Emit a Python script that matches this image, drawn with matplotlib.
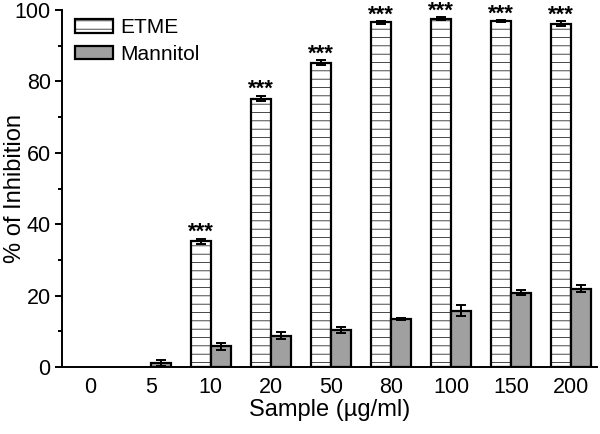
import numpy as np
import matplotlib.pyplot as plt
from matplotlib.patches import Patch

plt.rcParams['font.family'] = ['Liberation Sans', 'DejaVu Sans']
plt.rcParams['hatch.color'] = '#ababab'
plt.rcParams['hatch.linewidth'] = 0.5

samples = ['0', '5', '10', '20', '50', '80', '100', '150', '200']
etme = [0, 0, 35.2, 75.2, 85.2, 96.5, 97.6, 96.8, 96.2]
etme_err = [0, 0, 0.8, 0.8, 0.7, 0.4, 0.3, 0.3, 0.6]
mannitol = [0, 1.2, 5.8, 8.8, 10.5, 13.4, 15.8, 20.9, 22.0]
mannitol_err = [0, 0.8, 1.0, 1.0, 0.8, 0.3, 1.5, 0.8, 0.9]
stars = ['', '', '***', '***', '***', '***', '***', '***', '***']

fig = plt.figure(figsize=(6, 4.34), dpi=100)
ax = fig.add_axes([0.103, 0.154, 0.892, 0.823])

x = np.arange(len(samples))
w = 0.335
ekw = dict(elinewidth=1.4, capthick=1.4, capsize=3.5)
etme_a = np.array(etme)
man_a = np.array(mannitol)
m1 = etme_a > 0
m2 = man_a > 0
ax.bar(x[m1] - w/2, etme_a[m1], w, color='white', edgecolor='black', linewidth=1.6,
       hatch='--')
ax.errorbar(x[m1] - w/2, etme_a[m1], yerr=np.array(etme_err)[m1], fmt='none',
            ecolor='black', **ekw)
ax.bar(x[m2] + w/2, man_a[m2], w, color='#a0a0a0', edgecolor='black', linewidth=1.6)
ax.errorbar(x[m2] + w/2, man_a[m2], yerr=np.array(mannitol_err)[m2], fmt='none',
            ecolor='black', **ekw)

for xi, v, e, s in zip(x, etme, etme_err, stars):
    if s:
        ax.text(xi - w/2, v + e - 1.2, s, ha='center', va='bottom', fontsize=16,
                fontweight='bold', clip_on=False)

ax.set_xlim(-0.48, 8.43)
ax.set_ylim(0, 100)
ax.set_xticks(x)
ax.set_xticklabels(samples)
ax.set_yticks(np.arange(0, 101, 20))
ax.set_yticks(np.arange(10, 100, 20), minor=True)
ax.tick_params(axis='both', which='major', labelsize=15.5, length=5, width=1.4, direction='out')
ax.tick_params(axis='y', which='minor', length=3, width=1.4)
ax.tick_params(axis='y', pad=3)
ax.tick_params(axis='x', length=0, pad=7)
for s in ['top', 'right']:
    ax.spines[s].set_visible(False)
for s in ['left', 'bottom']:
    ax.spines[s].set_linewidth(1.4)

ax.set_xlabel('Sample (µg/ml)', fontsize=17, labelpad=1)
ax.set_ylabel('% of Inhibition', fontsize=17)
ax.yaxis.set_label_coords(-0.066, 0.5)

handles = [Patch(facecolor='white', edgecolor='black', linewidth=1.6, hatch='--', label='ETME'),
           Patch(facecolor='#a0a0a0', edgecolor='black', linewidth=1.6, label='Mannitol')]
ax.legend(handles=handles, loc='upper left', frameon=False, fontsize=15, handlelength=1.8,
          handleheight=0.6, borderaxespad=0.2, borderpad=0.2, labelspacing=0.35,
          handletextpad=0.35, bbox_to_anchor=(0.01, 1.0))

fig.savefig('out.png', dpi=100)
